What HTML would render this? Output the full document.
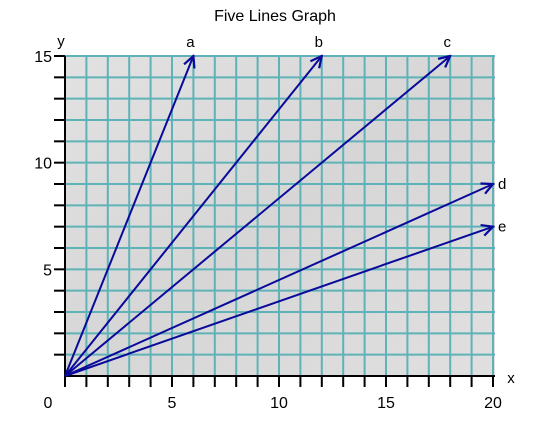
<!DOCTYPE html>
<html><head><meta charset="utf-8"><style>
html,body{margin:0;padding:0;background:#fff;}
svg{display:block;font-family:"Liberation Sans",sans-serif;}
</style></head><body>
<svg id="chart" width="550" height="425">
<defs>
<linearGradient id="paper" x1="0" y1="0" x2="1" y2="1">
<stop offset="0" stop-color="#e2e2e2"/><stop offset="0.5" stop-color="#d6d6d6"/><stop offset="1" stop-color="#e0e0e0"/>
</linearGradient>
<marker id="arr" viewBox="0 0 10 10" refX="9" refY="5" markerWidth="7" markerHeight="7" orient="auto">
<path d="M1,1 L9,5 L1,9" fill="none" stroke="#0a0a9a" stroke-width="1.6"/>
</marker>
</defs>
<text x="275" y="21" text-anchor="middle" font-size="16">Five Lines Graph</text>
<g id="plot"></g>
</svg>
<script>
const labels = ['a','b','c','d','e'];
const endX = [6,12,18,20,20];
const endY = [15,15,15,9,7];
const xTicks = [0,5,10,15,20];
const yTicks = [5,10,15];
const X0=65, X1=493, Y0=376, Y1=56;
const sx = v => X0 + v*(X1-X0)/20;
const sy = v => Y0 - v*(Y0-Y1)/15;
const NS='http://www.w3.org/2000/svg';
const g=document.getElementById('plot');
function mk(t,a){const e=document.createElementNS(NS,t);for(const k in a)e.setAttribute(k,a[k]);g.appendChild(e);return e;}
let bg=mk('rect',{x:X0,y:Y1,width:X1-X0+2,height:Y0-Y1,fill:'url(#paper)'});


for(let i=1;i<=20;i++){let l=mk('line',{x1:sx(i),x2:sx(i),y1:Y1,y2:Y0,stroke:'#5fb2b8','stroke-width':2});

}
for(let i=1;i<=15;i++){let l=mk('line',{x1:X0,x2:X1+2,y1:sy(i),y2:sy(i),stroke:'#5fb2b8','stroke-width':2});

}
let ax=mk('line',{x1:X0,x2:X1+2,y1:Y0,y2:Y0,stroke:'#000','stroke-width':2});


let ay=mk('line',{x1:X0,x2:X0,y1:Y1,y2:Y0,stroke:'#000','stroke-width':2});


for(let i=0;i<=20;i++){let t=mk('line',{x1:sx(i),x2:sx(i),y1:Y0,y2:Y0+11,stroke:'#000','stroke-width':2});

}
for(let i=1;i<=15;i++){let t=mk('line',{x1:X0-11,x2:X0,y1:sy(i),y2:sy(i),stroke:'#000','stroke-width':2});

}
xTicks.forEach(v=>{let t=mk('text',{x:v===0?sx(v)-17:sx(v),y:Y0+32,'text-anchor':'middle','font-size':16});t.textContent=v;

});
yTicks.forEach(v=>{let t=mk('text',{x:X0-13,y:sy(v)+6,'text-anchor':'end','font-size':16});t.textContent=v;

});
let xt=mk('text',{x:511,y:383,'text-anchor':'middle','font-size':15});xt.textContent='x';


let yt=mk('text',{x:61,y:46,'text-anchor':'middle','font-size':15});yt.textContent='y';


labels.forEach((lb,i)=>{
let l=mk('line',{x1:sx(0),y1:sy(0),x2:sx(endX[i]),y2:sy(endY[i]),stroke:'#0a0a9a','stroke-width':2,'marker-end':'url(#arr)'});


const top=endY[i]>=15;
let t=mk('text',{x:top?sx(endX[i])-3:sx(endX[i])+5,y:top?sy(endY[i])-9:sy(endY[i])+5,'text-anchor':top?'middle':'start','font-size':15});
t.textContent=lb;


});
</script>
</body></html>
